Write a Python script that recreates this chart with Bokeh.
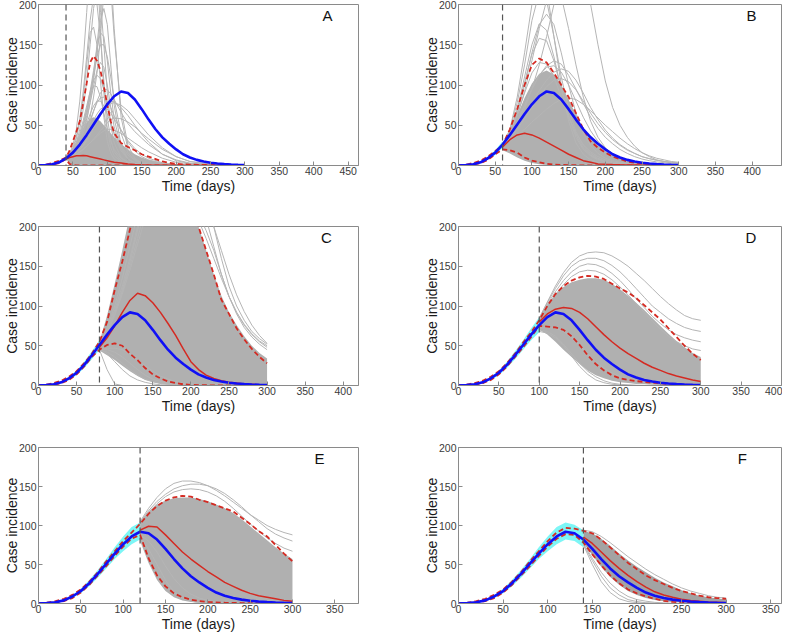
from bokeh.plotting import figure
from bokeh.models import Range1d, Label, FixedTicker, Span
from bokeh.layouts import column, row
from bokeh.embed import file_html
from bokeh.resources import INLINE

# ---------------- shared data ----------------
DAYS = list(range(0, 310, 10))
TRUE_CASES = [0, 0.5, 1.5, 4, 9, 16, 26, 38, 51, 64, 76, 86, 92, 90, 82, 70, 57, 45, 35, 27,
              20, 14, 10, 7, 5, 3.5, 2.5, 1.8, 1.2, 0.8, 0.5]
FIT_DAYS = list(range(0, 150, 10))
FIT_LO = [0, 0.2, 1, 3, 7, 14, 24, 36, 48, 61, 73, 83, 89, 88, 80]
FIT_HI = [0.3, 1, 3, 6, 11, 18, 28, 40, 54, 67, 80, 91, 97, 96, 90]
CYAN_LO = [0, 0, 0.5, 2.5, 7, 13, 22, 33, 45, 57, 67, 76, 82, 80, 72]
CYAN_HI = [0.5, 1, 2.5, 5.5, 11, 19, 30, 43, 57, 72, 86, 98, 104, 101, 94]

PANELS = ["A", "B", "C", "D", "E", "F"]
CUTOFF = [40, 60, 80, 100, 120, 140]
X_MAX = [465, 440, 420, 400, 378, 362]
X_TICKS = [list(range(0, 451, 50)), list(range(0, 401, 50)), list(range(0, 401, 50)),
           list(range(0, 401, 50)), list(range(0, 351, 50)), list(range(0, 351, 50))]
Y_TICKS = [0, 50, 100, 150, 200]

# ---------------- panel A (cutoff 40) ----------------
A_DAYS = [40, 45, 50, 55, 60, 65, 70, 75, 80, 85, 90, 95, 100, 105, 110, 120, 130, 140, 150, 160, 180, 200, 220, 250, 300]
A_MED = [8, 10, 11, 12, 12, 12.5, 12, 11, 10, 9, 8, 7, 6, 5, 4, 3, 2, 1.2, 0.8, 0.5, 0.3, 0.2, 0.1, 0, 0]
A_HI95 = [10, 18, 30, 42, 55, 78, 102, 128, 136, 130, 118, 98, 75, 55, 40, 28, 23, 19, 14, 11, 5, 2, 1, 0.5, 0.3]
A_LO95 = [8, 2, 0.5, 0.2, 0, 0, 0, 0, 0, 0, 0, 0, 0, 0, 0, 0, 0, 0, 0, 0, 0, 0, 0, 0, 0]
A_BAND_LO = [8, 3, 0, 0, 0, 0, 0, 0, 0, 0, 0, 0, 0, 0, 0, 0, 0, 0, 0, 0, 0, 0, 0, 0, 0]
A_BAND_HI = [10, 15, 22, 30, 38, 46, 53, 58, 60, 58, 55, 50, 45, 40, 35, 27, 20, 14, 10, 7, 3.5, 1.5, 0.5, 0, 0]
A_TRAJ = [
    [9, 14, 25, 45, 80, 130, 190, 250, 280, 250, 170, 90, 45, 22, 12, 5, 2, 1, 0.5, 0.3, 0, 0, 0, 0, 0],
    [9, 12, 18, 28, 45, 70, 105, 150, 195, 220, 205, 150, 90, 50, 28, 10, 4, 2, 1, 0.5, 0, 0, 0, 0, 0],
    [9, 11, 14, 18, 24, 32, 44, 60, 85, 115, 160, 215, 260, 240, 170, 60, 20, 8, 3, 1, 0.3, 0, 0, 0, 0],
    [9, 13, 20, 33, 55, 85, 125, 165, 172, 150, 105, 60, 30, 15, 8, 3, 1, 0.5, 0, 0, 0, 0, 0, 0, 0],
    [9, 12, 17, 25, 35, 50, 68, 87, 99, 98, 85, 65, 45, 30, 20, 9, 4, 2, 1, 0.5, 0, 0, 0, 0, 0],
    [9, 11, 13, 16, 20, 25, 31, 39, 47, 56, 64, 71, 77, 80, 79, 72, 62, 50, 39, 29, 14, 6, 2.5, 0.8, 0.1],
    [9, 10, 12, 14, 17, 20, 24, 28, 33, 38, 43, 48, 53, 57, 59, 58, 54, 48, 40, 33, 20, 11, 5, 1.5, 0.2],
    [9, 11, 15, 21, 30, 42, 58, 78, 98, 118, 128, 122, 100, 72, 48, 20, 8, 3, 1, 0.5, 0, 0, 0, 0, 0],
    [9, 10, 12, 14, 17, 20, 24, 28, 32, 36, 40, 43, 45, 45, 44, 40, 34, 28, 22, 17, 9, 4, 2, 0.5, 0],
    [9, 11, 15, 20, 28, 40, 56, 78, 105, 140, 180, 195, 175, 125, 75, 25, 8, 3, 1, 0.5, 0, 0, 0, 0, 0],
    [9, 11, 14, 18, 24, 32, 42, 54, 67, 80, 90, 95, 94, 89, 82, 66, 52, 42, 34, 26, 14, 7, 3, 1, 0.1],
    [9, 12, 16, 22, 31, 44, 62, 85, 112, 150, 190, 230, 250, 220, 160, 70, 25, 9, 3, 1, 0, 0, 0, 0, 0],
    [9, 13, 19, 28, 40, 56, 74, 92, 106, 112, 108, 94, 74, 54, 38, 18, 8, 3, 1, 0.5, 0, 0, 0, 0, 0],
    [9, 12, 16, 22, 30, 40, 52, 64, 74, 80, 80, 74, 64, 52, 41, 24, 13, 7, 3, 1.5, 0.5, 0, 0, 0, 0],
    [9, 14, 22, 36, 58, 92, 135, 180, 210, 200, 160, 105, 60, 32, 17, 6, 2, 1, 0.5, 0, 0, 0, 0, 0, 0],
    [9, 12, 17, 24, 34, 48, 66, 88, 112, 135, 150, 150, 135, 110, 82, 40, 16, 6, 2, 1, 0, 0, 0, 0, 0],
    [9, 11, 14, 18, 23, 30, 38, 47, 56, 64, 70, 72, 70, 65, 58, 44, 31, 21, 14, 9, 3.5, 1.2, 0.4, 0, 0],
    [9, 12, 15, 20, 26, 34, 44, 56, 68, 78, 84, 85, 80, 72, 62, 44, 29, 18, 11, 7, 2.5, 1, 0.3, 0, 0],
    [9, 11, 13, 16, 20, 25, 31, 38, 46, 54, 62, 69, 74, 77, 78, 75, 68, 58, 48, 38, 22, 11, 5, 1.5, 0.2],
    [9, 13, 19, 27, 38, 52, 70, 92, 118, 145, 165, 160, 130, 90, 58, 22, 8, 3, 1, 0.5, 0, 0, 0, 0, 0],
]

# ---------------- panel B (cutoff 60) ----------------
B_DAYS = list(range(60, 310, 10))
B_MED = [23, 32, 38, 40, 38, 34, 29, 24, 19, 14, 10, 6, 4, 2, 1.5, 1.1, 0.8, 0.6, 0.5, 0.4, 0.3, 0.3, 0.2, 0.2, 0.2]
B_HI95 = [25, 45, 70, 100, 125, 133, 128, 115, 100, 85, 65, 45, 30, 22, 16, 11, 8, 5, 3.5, 2.5, 1.8, 1, 0.8, 0.6, 0.5]
B_LO95 = [20, 19, 16, 10, 6, 4, 2, 1.2, 0.8, 0.5, 0.3, 0.2, 0.1, 0, 0, 0, 0, 0, 0, 0, 0, 0, 0, 0, 0]
B_BAND_LO = [19, 15, 10, 6, 3, 1.5, 0.5, 0, 0, 0, 0, 0, 0, 0, 0, 0, 0, 0, 0, 0, 0, 0, 0, 0, 0]
B_BAND_HI = [26, 42, 62, 84, 102, 114, 118, 113, 100, 82, 63, 47, 35, 25, 18, 13, 9, 6.5, 4.5, 3.2, 2.3, 1.7, 1.2, 0.9, 0.7]
B_TRAJ = [
    [25, 40, 65, 100, 140, 175, 188, 175, 140, 100, 65, 40, 25, 15, 9, 6, 4, 2.5, 1.5, 1, 0.7, 0.5, 0.4, 0.3, 0.3],
    [25, 42, 70, 110, 150, 176, 168, 135, 95, 60, 35, 20, 12, 7, 4, 2.5, 1.5, 1, 0.7, 0.5, 0.3, 0.2, 0.1, 0.1, 0.1],
    [25, 45, 85, 140, 200, 240, 220, 160, 100, 55, 28, 14, 7, 4, 2, 1.5, 1, 0.5, 0.3, 0.2, 0, 0, 0, 0, 0],
    [25, 35, 50, 70, 95, 125, 160, 200, 240, 265, 260, 235, 200, 150, 105, 72, 50, 35, 24, 16, 11, 7, 5, 3, 2],
    [25, 40, 62, 92, 130, 170, 205, 225, 210, 170, 125, 85, 55, 35, 22, 14, 9, 6, 4, 2.5, 1.8, 1, 0.7, 0.5, 0.3],
    [25, 38, 55, 75, 95, 112, 124, 130, 126, 112, 95, 77, 60, 46, 35, 27, 20, 15, 11, 8, 6, 4.5, 3.5, 2.5, 2],
    [25, 35, 48, 62, 78, 93, 106, 116, 120, 117, 106, 90, 72, 57, 44, 34, 26, 20, 15, 11, 8.5, 6.5, 5, 4, 3],
    [24, 30, 37, 45, 54, 62, 70, 77, 82, 84, 82, 76, 68, 59, 50, 42, 34, 27, 21, 16, 12, 9, 7, 5, 4],
    [25, 42, 68, 103, 138, 158, 155, 130, 95, 62, 38, 22, 13, 8, 5, 3, 2, 1.2, 0.8, 0.5, 0.3, 0.2, 0.1, 0.1, 0.1],
    [25, 44, 78, 125, 180, 215, 205, 160, 110, 70, 42, 25, 15, 9, 5, 3, 2, 1.2, 0.8, 0.5, 0.3, 0.2, 0.1, 0.1, 0],
    [25, 40, 62, 90, 115, 128, 126, 110, 85, 60, 40, 26, 17, 11, 7, 4.5, 3, 2, 1.3, 0.9, 0.6, 0.4, 0.3, 0.2, 0.1],
    [25, 37, 54, 74, 95, 112, 122, 124, 116, 100, 80, 60, 43, 30, 21, 15, 10, 7, 5, 3.5, 2.5, 1.8, 1.3, 1, 0.7],
    [24, 33, 45, 58, 72, 86, 98, 106, 108, 104, 94, 80, 65, 52, 41, 32, 25, 19, 15, 11, 8.5, 6.5, 5, 4, 3],
]

# ---------------- panel C (cutoff 80) ----------------
C_DAYS = list(range(80, 310, 10))
C_MED = [48, 60, 75, 92, 107, 116, 113, 104, 92, 78, 63, 46, 30, 20, 13, 9, 6, 4, 3, 2, 1.5, 1, 0.8]
C_HI95 = [55, 80, 120, 156, 196, 230, 255, 270, 280, 280, 270, 255, 240, 200, 170, 140, 108, 90, 72, 58, 46, 36, 28]
C_LO95 = [45, 51, 53, 50, 40, 32, 22, 14, 9, 5, 3, 1.5, 0.8, 0.5, 0.3, 0.2, 0, 0, 0, 0, 0, 0, 0]
C_BAND_LO = [44, 38, 32, 25, 18, 12, 7, 4, 2, 1, 0.5, 0, 0, 0, 0, 0, 0, 0, 0, 0, 0, 0, 0]
C_BAND_HI = [55, 88, 128, 170, 215, 250, 260, 260, 260, 260, 255, 245, 225, 200, 170, 140, 113, 92, 76, 62, 50, 41, 34]
C_TRAJ = [
    [50, 70, 95, 125, 160, 200, 240, 270, 290, 300, 300, 290, 275, 255, 235, 200, 160, 125, 100, 82, 68, 59, 52],
    [50, 68, 92, 120, 155, 195, 230, 255, 270, 275, 275, 270, 260, 240, 210, 175, 140, 112, 90, 73, 61, 52, 45],
    [48, 66, 90, 118, 150, 185, 220, 245, 258, 262, 258, 248, 232, 215, 195, 170, 140, 112, 92, 76, 64, 55, 48],
    [49, 66, 88, 115, 145, 178, 210, 235, 250, 255, 252, 243, 228, 208, 185, 160, 135, 112, 92, 77, 65, 56, 50],
    [49, 72, 100, 135, 175, 215, 250, 275, 290, 295, 292, 282, 268, 250, 228, 200, 170, 140, 114, 93, 76, 63, 53],
    [45, 20, 2, 0, 0, 0, 0, 0, 0, 0, 0, 0, 0, 0, 0, 0, 0, 0, 0, 0, 0, 0, 0],
    [45, 45, 42, 36, 28, 20, 13, 8, 5, 3, 1.5, 1, 0.5, 0, 0, 0, 0, 0, 0, 0, 0, 0, 0],
    [45, 47, 47, 45, 40, 33, 25, 18, 12, 8, 5, 3, 2, 1, 0.5, 0, 0, 0, 0, 0, 0, 0, 0],
    [46, 40, 30, 20, 12, 7, 4, 2, 1, 0.5, 0, 0, 0, 0, 0, 0, 0, 0, 0, 0, 0, 0, 0],
    [45, 42, 36, 28, 20, 13, 8, 5, 3, 1.5, 1, 0.5, 0, 0, 0, 0, 0, 0, 0, 0, 0, 0, 0],
]

# ---------------- panel D (cutoff 100) ----------------
D_DAYS = list(range(100, 310, 10))
D_MED = [80, 90, 96, 98, 97, 92, 84, 74, 64, 55, 47, 40, 34, 28, 23, 19, 15, 12, 9.5, 7, 5]
D_HI95 = [82, 100, 115, 125, 132, 136, 138, 137, 134, 128, 122, 117, 110, 101, 92, 83, 72, 61, 50, 40, 32]
D_LO95 = [75, 74, 73, 70, 62, 51, 38, 27, 19, 13, 9, 7, 5.5, 4.5, 3.5, 2.8, 2, 1.5, 1, 0.7, 0.5]
D_BAND_LO = [70, 64, 55, 45, 36, 27, 19, 13, 9, 6, 4, 3, 2, 1.5, 1, 0.5, 0.3, 0.2, 0.1, 0, 0]
D_BAND_HI = [85, 102, 115, 124, 130, 133, 135, 135, 133, 128, 121, 113, 104, 95, 85, 75, 65, 56, 48, 41, 36]
D_TRAJ = [
    [85, 105, 125, 142, 155, 163, 167, 168, 167, 163, 157, 150, 141, 132, 122, 112, 103, 95, 88, 84, 82],
    [84, 104, 122, 138, 150, 157, 160, 160, 157, 151, 143, 133, 122, 111, 100, 92, 84, 78, 73, 70, 68],
    [84, 102, 118, 132, 143, 150, 153, 152, 148, 141, 132, 121, 109, 98, 87, 78, 70, 64, 60, 57, 55],
    [83, 100, 114, 127, 137, 143, 145, 144, 140, 133, 124, 114, 103, 92, 81, 71, 62, 55, 50, 46, 44],
    [70, 68, 62, 52, 40, 28, 18, 11, 6, 3, 1.5, 0.8, 0.4, 0, 0, 0, 0, 0, 0, 0, 0],
    [68, 66, 60, 50, 37, 24, 14, 7, 3.5, 1.5, 0.7, 0.3, 0, 0, 0, 0, 0, 0, 0, 0, 0],
    [72, 73, 72, 68, 60, 50, 40, 30, 22, 16, 11, 8, 6, 4, 3, 2, 1.5, 1, 0.7, 0.5, 0.3],
]

# ---------------- panel E (cutoff 120) ----------------
E_DAYS = list(range(120, 310, 10))
E_MED = [94, 99, 98, 88, 77, 66, 57, 49, 41, 34, 27, 22, 17, 13, 10, 8, 6, 4, 3]
E_HI95 = [102, 115, 125, 132, 136, 138, 137, 133, 130, 126, 122, 118, 110, 102, 93, 86, 75, 64, 54]
E_LO95 = [88, 58, 36, 22, 13, 8, 5, 3, 2, 1.5, 1, 0.8, 0.6, 0.5, 0.4, 0.3, 0.3, 0.2, 0.2]
E_BAND_LO = [80, 52, 30, 16, 8, 4, 2, 1, 0.5, 0, 0, 0, 0, 0, 0, 0, 0, 0, 0]
E_BAND_HI = [105, 118, 127, 132, 135, 136, 136, 134, 131, 127, 122, 116, 108, 99, 90, 81, 72, 64, 57]
E_TRAJ = [
    [105, 122, 136, 147, 154, 157, 157, 155, 151, 145, 138, 130, 122, 114, 107, 100, 95, 91, 88],
    [104, 119, 131, 140, 147, 151, 153, 153, 151, 147, 141, 133, 124, 114, 105, 96, 89, 84, 80],
    [103, 117, 128, 137, 143, 146, 147, 146, 143, 138, 131, 122, 112, 102, 93, 84, 77, 71, 67],
    [85, 70, 50, 30, 15, 7, 3, 1, 0.5, 0, 0, 0, 0, 0, 0, 0, 0, 0, 0],
    [88, 80, 66, 48, 32, 20, 12, 7, 4, 2, 1, 0.5, 0, 0, 0, 0, 0, 0, 0],
]

# ---------------- panel F (cutoff 140) ----------------
F_DAYS = list(range(140, 310, 10))
F_MED = [85, 77, 66, 55, 45, 36, 28, 21, 15, 11, 8, 5.5, 4, 3, 2, 1.5, 1]
F_HI95 = [93, 90, 82, 72, 62, 52, 44, 36, 30, 25, 20, 16, 13, 10, 8, 7, 6]
F_LO95 = [78, 63, 49, 36, 26, 18, 13, 9, 6, 3.5, 2, 1.5, 1, 0.7, 0.5, 0.4, 0.3]
F_BAND_LO = [78, 62, 47, 34, 24, 16, 11, 7, 4.5, 3, 2, 1.2, 0.8, 0.5, 0.3, 0.2, 0.1]
F_BAND_HI = [93, 90, 83, 74, 64, 55, 47, 40, 33, 27, 22, 17, 13, 10, 8, 6.5, 5.5]
F_TRAJ = [
    [94, 92, 86, 78, 69, 60, 52, 44, 37, 31, 25, 20, 16, 13, 10, 8, 7],
    [75, 50, 28, 14, 6, 2.5, 1, 0.5, 0, 0, 0, 0, 0, 0, 0, 0, 0],
    [76, 55, 35, 20, 11, 5, 2.5, 1, 0.5, 0, 0, 0, 0, 0, 0, 0, 0],
    [77, 58, 40, 26, 16, 9, 5, 3, 1.5, 0.8, 0.4, 0, 0, 0, 0, 0, 0],
]

FORECASTS = [
    (A_DAYS, A_MED, A_LO95, A_HI95, A_BAND_LO, A_BAND_HI, A_TRAJ),
    (B_DAYS, B_MED, B_LO95, B_HI95, B_BAND_LO, B_BAND_HI, B_TRAJ),
    (C_DAYS, C_MED, C_LO95, C_HI95, C_BAND_LO, C_BAND_HI, C_TRAJ),
    (D_DAYS, D_MED, D_LO95, D_HI95, D_BAND_LO, D_BAND_HI, D_TRAJ),
    (E_DAYS, E_MED, E_LO95, E_HI95, E_BAND_LO, E_BAND_HI, E_TRAJ),
    (F_DAYS, F_MED, F_LO95, F_HI95, F_BAND_LO, F_BAND_HI, F_TRAJ),
]

# ---------------- layout / style ----------------
FONT = "Liberation Sans"
GRAY = "#b5b5b5"
BAND = ["#b0b0b0", "#b0b0b0", "#b0b0b0", "#b0b0b0", "#b0b0b0", "#a3a3a3"]
RED = "#d42a22"
BLUE = "#1010f5"
CYAN = "#6ff5f5"
AXIS = "#8a8a8a"
LETTER_X = [420, 399, 378, 362, 332, 318]
COL_W = [396, 386]
COL_BL = [36, 62]
COL_BR = [38, 1]
ROW_H = [205, 220, 209]
ROW_BT = [4, 21, 22]
ROW_BB = [40, 40, 29]


def style_axis(ax, ticks, label_standoff, tick_standoff):
    ax.ticker = FixedTicker(ticks=ticks)
    ax.axis_line_color = AXIS
    ax.major_tick_line_color = AXIS
    ax.major_tick_in = 4
    ax.major_tick_out = 0
    ax.minor_tick_line_color = None
    ax.major_label_text_font = FONT
    ax.major_label_text_color = "#3a3a3a"
    ax.major_label_text_font_size = "10.5px"
    ax.major_label_standoff = tick_standoff
    ax.axis_label_text_font = FONT
    ax.axis_label_text_font_style = "normal"
    ax.axis_label_text_font_size = "14px"
    ax.axis_label_text_color = "#1a1a1a"
    ax.axis_label_standoff = label_standoff


def make_panel(i):
    r, c = divmod(i, 2)
    days, med, lo95, hi95, band_lo, band_hi, traj = FORECASTS[i]
    cut = CUTOFF[i]
    p = figure(width=COL_W[c], height=ROW_H[r], x_range=Range1d(0, X_MAX[i]), y_range=Range1d(0, 200),
               output_backend="svg", toolbar_location=None,
               min_border_left=COL_BL[c], min_border_right=COL_BR[c],
               min_border_top=ROW_BT[r], min_border_bottom=ROW_BB[r])
    p.xgrid.visible = False
    p.ygrid.visible = False
    p.outline_line_color = AXIS
    p.outline_line_width = 1
    p.background_fill_color = "white"
    p.border_fill_color = "white"

    # forecast trajectories
    p.varea(x=days, y1=band_lo, y2=band_hi, fill_color=BAND[i], fill_alpha=1.0)
    p.multi_line(xs=[days] * len(traj), ys=traj, line_color=GRAY, line_width=1)

    # pre-cutoff fit uncertainty (cyan) and fit bounds
    pre = [k for k, d in enumerate(FIT_DAYS) if d < cut]
    upto = [k for k, d in enumerate(FIT_DAYS) if d <= cut]
    p.varea(x=[FIT_DAYS[k] for k in upto], y1=[CYAN_LO[k] for k in upto], y2=[CYAN_HI[k] for k in upto],
            fill_color=CYAN, fill_alpha=0.9)
    pre_days = [FIT_DAYS[k] for k in pre]
    p.line(pre_days + days, [FIT_HI[k] for k in pre] + hi95, line_color=RED, line_width=1.8, line_dash="5 3")
    p.line(pre_days + days, [FIT_LO[k] for k in pre] + lo95, line_color=RED, line_width=1.8, line_dash="5 3")
    p.line(days, med, line_color=RED, line_width=1.5)

    # true epidemic curve
    p.line(DAYS, TRUE_CASES, line_color=BLUE, line_width=2.6)

    p.add_layout(Span(location=cut, dimension="height", line_color="#555555", line_width=1.2,
                      line_dash="6 4"))
    p.add_layout(Label(x=LETTER_X[i], y=186, text=PANELS[i], text_font=FONT, text_font_size="15px",
                       text_align="center", text_baseline="middle", text_color="#111111"))

    style_axis(p.xaxis[0], X_TICKS[i], 0, 1)
    style_axis(p.yaxis[0], Y_TICKS, -4, 2)
    p.xaxis[0].axis_label = "Time (days)"
    p.yaxis[0].axis_label = "Case incidence"
    return p


panels = [make_panel(i) for i in range(6)]
layout = column(row(panels[0], panels[1]), row(panels[2], panels[3]), row(panels[4], panels[5]))

open("out.html", "w").write(file_html(layout, INLINE))
